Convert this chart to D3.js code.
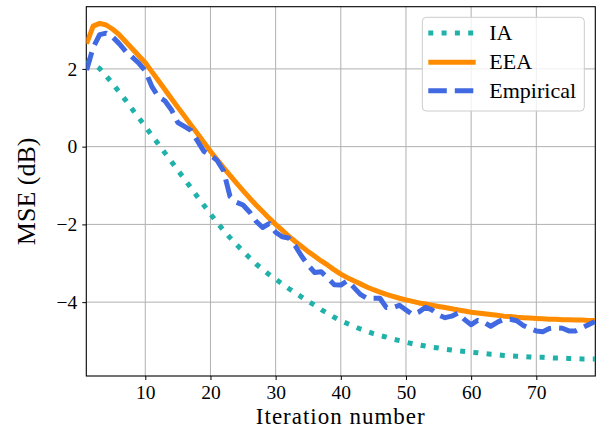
<!DOCTYPE html>
<html lang="en">
<head>
<meta charset="UTF-8">
<title>MSE vs iteration</title>
<script src="https://cdn.jsdelivr.net/npm/d3@7"></script>
<style>
  body { margin: 0; background: #fff; }
  text { font-family: "Liberation Serif", "Times New Roman", serif; fill: #000; }
</style>
</head>
<body>
<div id="chart"></div>
<script>
// iteration numbers 1..79
const iterations = d3.range(1, 80);

const iaValues = [
   2.23,  2.13,  2.01,  1.82,  1.62,  1.40,  1.19,  0.96,  0.74,  0.52,
   0.29,  0.07, -0.16, -0.38, -0.61, -0.83, -1.06, -1.29, -1.51, -1.73,
  -1.95, -2.15, -2.34, -2.52, -2.69, -2.86, -3.02, -3.16, -3.29, -3.41,
  -3.53, -3.65, -3.76, -3.87, -3.98, -4.08, -4.19, -4.29, -4.39, -4.48,
  -4.55, -4.62, -4.69, -4.75, -4.81, -4.86, -4.90, -4.95, -4.99, -5.03,
  -5.07, -5.10, -5.13, -5.16, -5.18, -5.21, -5.23, -5.25, -5.27, -5.29,
  -5.30, -5.32, -5.34, -5.35, -5.37, -5.38, -5.39, -5.40, -5.41, -5.42,
  -5.42, -5.43, -5.44, -5.44, -5.45, -5.45, -5.46, -5.46, -5.46
];

const eeaValues = [
   2.65,  3.10,  3.17,  3.13,  3.02,  2.88,  2.70,  2.52,  2.34,  2.16,
   1.93,  1.70,  1.47,  1.24,  1.01,  0.79,  0.56,  0.34,  0.11, -0.12,
  -0.33, -0.54, -0.74, -0.94, -1.13, -1.32, -1.50, -1.67, -1.84, -2.00,
  -2.15, -2.30, -2.44, -2.57, -2.70, -2.82, -2.94, -3.05, -3.17, -3.28,
  -3.37, -3.45, -3.53, -3.61, -3.68, -3.74, -3.80, -3.85, -3.90, -3.94,
  -3.98, -4.02, -4.05, -4.08, -4.11, -4.14, -4.17, -4.20, -4.23, -4.26,
  -4.28, -4.30, -4.32, -4.34, -4.36, -4.37, -4.39, -4.40, -4.41, -4.42,
  -4.43, -4.44, -4.44, -4.45, -4.45, -4.46, -4.46, -4.47, -4.47
];

const empiricalValues = [
   1.97,  2.55,  2.88,  2.92,  2.82,  2.65,  2.45,  2.30,  2.15,  1.95,
   1.55,  1.28,  1.18,  0.95,  0.62,  0.52,  0.42,  0.15, -0.12, -0.22,
  -0.35, -0.62, -1.28, -1.43, -1.50, -1.68, -1.92, -2.08, -1.98, -2.20,
  -2.32, -2.35, -2.55, -2.82, -3.05, -3.24, -3.22, -3.38, -3.55, -3.56,
  -3.45, -3.62, -3.80, -3.90, -3.90, -3.90, -4.14, -4.14, -4.08, -4.20,
  -4.32, -4.25, -4.13, -4.20, -4.33, -4.40, -4.36, -4.28, -4.45, -4.58,
  -4.47, -4.52, -4.62, -4.52, -4.44, -4.44, -4.48, -4.60, -4.68, -4.74,
  -4.76, -4.68, -4.66, -4.67, -4.74, -4.74, -4.66, -4.58, -4.50
];

const xTicks = [10, 20, 30, 40, 50, 60, 70];
const yTicks = [-4, -2, 0, 2];

const seriesNames = ["IA", "EEA", "Empirical"];
const seriesColors = ["#20b2aa", "#ff8c00", "#4169e1"];
const seriesDash = ["5,8.3", null, "18.5,8"];

const width = 602, height = 429;
const margin = { top: 6.7, right: 6.7, bottom: 53, left: 86.3 };

const svg = d3.select("#chart").append("svg")
    .attr("width", width)
    .attr("height", height);

const xScale = d3.scaleLinear()
    .domain([0.95, 79.05])
    .range([margin.left, width - margin.right]);
const yScale = d3.scaleLinear()
    .domain([-5.9, 3.6])
    .range([height - margin.bottom, margin.top]);

// grid
svg.append("g")
    .selectAll("line")
    .data(xTicks)
    .enter().append("line")
    .attr("x1", d => xScale(d)).attr("x2", d => xScale(d))
    .attr("y1", margin.top).attr("y2", height - margin.bottom)
    .attr("stroke", "#b0b0b0").attr("stroke-width", 1);
svg.append("g")
    .selectAll("line")
    .data(yTicks)
    .enter().append("line")
    .attr("x1", margin.left).attr("x2", width - margin.right)
    .attr("y1", d => yScale(d)).attr("y2", d => yScale(d))
    .attr("stroke", "#b0b0b0").attr("stroke-width", 1);

// axes
const xAxis = d3.axisBottom(xScale).tickValues(xTicks).tickSize(4).tickPadding(5);
const yAxis = d3.axisLeft(yScale).tickValues(yTicks).tickSize(4).tickPadding(5)
    .tickFormat(d => d < 0 ? "\u2212" + Math.abs(d) : d);

const gx = svg.append("g")
    .attr("transform", `translate(0, ${height - margin.bottom})`)
    .call(xAxis);
const gy = svg.append("g")
    .attr("transform", `translate(${margin.left}, 0)`)
    .call(yAxis);
[gx, gy].forEach(g => {
    g.select(".domain").remove();
    g.selectAll("line").attr("stroke", "#000").attr("stroke-width", 1);
    g.selectAll("text").style("font-size", "19.5px").style("font-family", "Liberation Serif, serif");
});

// frame
svg.append("rect")
    .attr("x", margin.left).attr("y", margin.top)
    .attr("width", width - margin.left - margin.right)
    .attr("height", height - margin.top - margin.bottom)
    .attr("fill", "none").attr("stroke", "#000").attr("stroke-width", 1.1);

// clip lines to plot area
svg.append("clipPath").attr("id", "plot-clip")
    .append("rect")
    .attr("x", margin.left).attr("y", margin.top)
    .attr("width", width - margin.left - margin.right)
    .attr("height", height - margin.top - margin.bottom);

const line = d3.line()
    .x(d => xScale(d[0]))
    .y(d => yScale(d[1]));

const allValues = [iaValues, eeaValues, empiricalValues];
const plot = svg.append("g").attr("clip-path", "url(#plot-clip)");
allValues.forEach((vals, i) => {
    plot.append("path")
        .datum(iterations.map((n, j) => [n, vals[j]]))
        .attr("d", line)
        .attr("fill", "none")
        .attr("stroke", seriesColors[i])
        .attr("stroke-width", 5)
        .attr("stroke-dasharray", seriesDash[i])
        .attr("stroke-linejoin", "round");
});

// axis labels
svg.append("text")
    .attr("x", (margin.left + width - margin.right) / 2)
    .attr("y", 424)
    .attr("text-anchor", "middle")
    .style("font-size", "23px")
    .style("letter-spacing", "1px")
    .text("Iteration number");

svg.append("text")
    .attr("transform", "rotate(-90)")
    .attr("x", -(margin.top + height - margin.bottom) / 2)
    .attr("y", 35)
    .attr("text-anchor", "middle")
    .style("font-size", "26px")
    .text("MSE (dB)");

// legend
const legend = svg.append("g");
legend.append("rect")
    .attr("x", 422.3).attr("y", 17.3)
    .attr("width", 162).attr("height", 93.7)
    .attr("rx", 4).attr("ry", 4)
    .attr("fill", "#fff").attr("fill-opacity", 0.8)
    .attr("stroke", "#cccccc").attr("stroke-width", 1);

const rowY = [33, 62.3, 90.7];
seriesNames.forEach((name, i) => {
    legend.append("line")
        .attr("x1", 428.3).attr("x2", 475.7)
        .attr("y1", rowY[i]).attr("y2", rowY[i])
        .attr("stroke", seriesColors[i])
        .attr("stroke-width", 5)
        .attr("stroke-dasharray", seriesDash[i]);
    legend.append("text")
        .attr("x", 489.3)
        .attr("y", rowY[i] + 7)
        .style("font-size", "22px")
        .text(name);
});
</script>
</body>
</html>
